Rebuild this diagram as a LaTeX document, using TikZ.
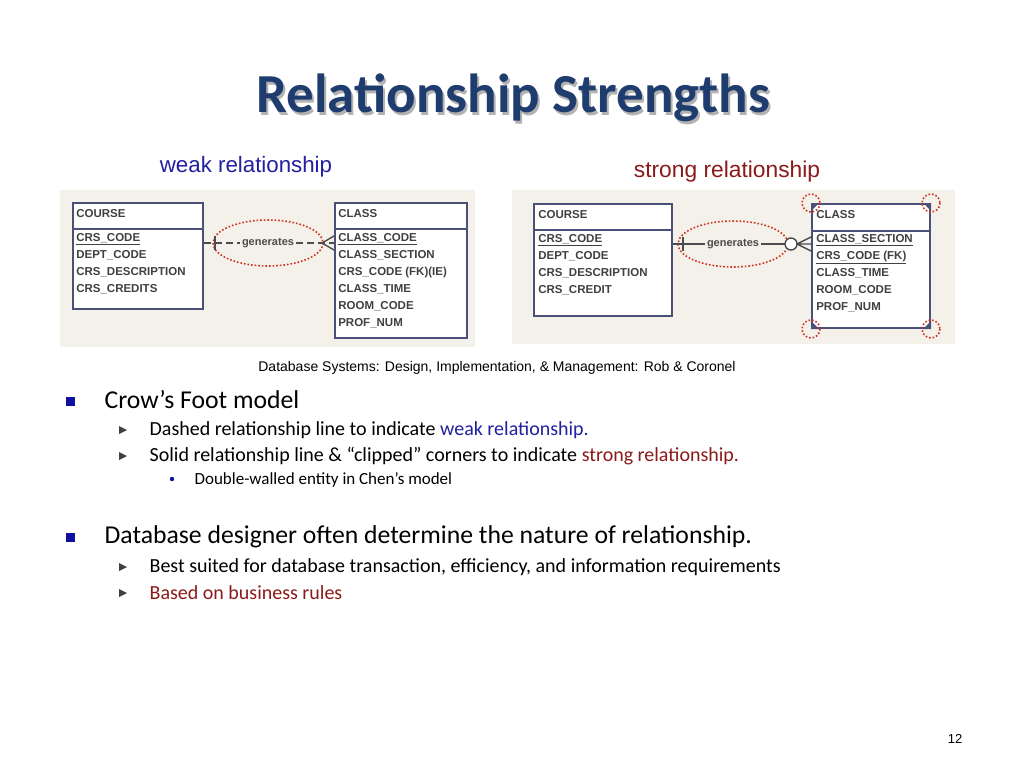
\documentclass[tikz,border=0pt]{standalone}
\usepackage{fontspec}
\setmainfont{Carlito}
\newfontfamily\arialfont{Liberation Sans}
\usepackage{tikz}
\usetikzlibrary{calc,positioning}
\definecolor{boxline}{HTML}{4A5078}
\definecolor{panelbg}{HTML}{F4F1EA}
\definecolor{dotred}{HTML}{D03020}
\definecolor{titleblue}{HTML}{1F3C6E}
\definecolor{weakblue}{HTML}{2020A0}
\definecolor{maroon}{HTML}{8B1A1A}
\definecolor{bulletblue}{HTML}{1010A0}
\begin{document}
\begin{tikzpicture}[x=1pt, y=-1pt, semithick]

    \tikzset{panel/.style = {fill=panelbg, draw=none},
             entity/.style = {rectangle, draw=boxline, line width=2pt, fill=white, anchor=north west, inner sep=0pt},
             fields/.style = {anchor=north west, align=left, inner sep=0pt, text=black!75, font=\arialfont\bfseries\fontsize{11.5}{17}\selectfont},
             relline/.style = {draw=black!70, line width=1.4pt},
             dotring/.style = {draw=dotred, line width=1.6pt, dotted},
             sub/.style = {anchor=west, font=\fontsize{20}{23}\selectfont},
             subsub/.style = {anchor=west, font=\fontsize{17}{20}\selectfont}}

    \useasboundingbox (0,0) rectangle (1024,768);
    \fill[white] (0,0) rectangle (1024,768);

    % title
    \node[text=black!30, font=\bfseries\fontsize{55}{60}\selectfont] at (515,101) {Relationship Strengths};
    \node (title) [text=titleblue, font=\bfseries\fontsize{55}{60}\selectfont] at (513,98) {Relationship Strengths};

    \node (weaklab)   [text=weakblue, font=\arialfont\fontsize{22.3}{26}\selectfont] at (246,167) {weak relationship};
    \node (stronglab) [text=maroon, font=\arialfont\fontsize{22.8}{26}\selectfont] at (727,172) {strong relationship};

    % weak panel
    \fill[panel] (60,190) rectangle (475,347);
    \node (wcourse) [entity, minimum width=130pt, minimum height=106pt] at (72,202) {};
    \draw[boxline, line width=2pt] (72,229) -- (202,229);
    \node (wcoursehd) [fields] at (76,209) {COURSE};
    \node (wcoursefl) [fields] at (76,233) {\underline{CRS\_CODE}\\DEPT\_CODE\\CRS\_DESCRIPTION\\CRS\_CREDITS};

    \node (wclass) [entity, minimum width=132pt, minimum height=135pt] at (334,202) {};
    \draw[boxline, line width=2pt] (334,229) -- (466,229);
    \node (wclasshd) [fields] at (338,209) {CLASS};
    \node (wclassfl) [fields] at (338,233) {\underline{CLASS\_CODE}\\CLASS\_SECTION\\CRS\_CODE (FK)(IE)\\CLASS\_TIME\\ROOM\_CODE\\PROF\_NUM};

    \node (wgen) [font=\arialfont\bfseries\fontsize{11}{13}\selectfont, text=black!70, inner sep=2pt, fill=panelbg] at (268,243) {generates};
    \coordinate (wl) at (wcourse.north east |- wgen);
    \coordinate (wr) at (wclass.north west |- wgen);
    \draw[dotring] (wgen) ellipse (55 and 23);
    \draw[relline, dash pattern=on 7pt off 4pt] (wl) -- (wgen.west);
    \draw[relline, dash pattern=on 7pt off 4pt] (wgen.east) -- (wr);
    \draw[relline] ($(wl)+(11,-7)$) -- ($(wl)+(11,7)$);
    \draw[relline] ($(wr)+(-12,0)$) -- ($(wr)+(0,-7)$)
                   ($(wr)+(-12,0)$) -- ($(wr)+(0,7)$);

    % strong panel
    \fill[panel] (512,190) rectangle (955,344);
    \node (scourse) [entity, minimum width=138pt, minimum height=112pt] at (533,203) {};
    \draw[boxline, line width=2pt] (533,230) -- (671,230);
    \node (scoursehd) [fields] at (538,210) {COURSE};
    \node (scoursefl) [fields] at (538,234) {\underline{CRS\_CODE}\\DEPT\_CODE\\CRS\_DESCRIPTION\\CRS\_CREDIT};

    \node (sclass) [entity, minimum width=118pt, minimum height=124pt] at (811,203) {};
    \draw[boxline, line width=2pt] (811,231) -- (929,231);
    \node (sclasshd) [fields] at (816,210) {CLASS};
    \node (sclassfl) [fields] at (816,234) {\underline{CLASS\_SECTION}\\\underline{CRS\_CODE (FK)}\\CLASS\_TIME\\ROOM\_CODE\\PROF\_NUM};

    \node (sgen) [font=\arialfont\bfseries\fontsize{11}{13}\selectfont, text=black!70, inner sep=2pt, fill=panelbg] at (733,244) {generates};
    \coordinate (sl) at (scourse.north east |- sgen);
    \coordinate (sr) at (sclass.north west |- sgen);
    \draw[dotring] (sgen) ellipse (55 and 23);
    \draw[relline] (sl) -- (sgen.west);
    \draw[relline] (sgen.east) -- ($(sr)+(-26,0)$);
    \draw[relline] ($(sl)+(10,-7)$) -- ($(sl)+(10,7)$);
    \draw[relline, fill=white] ($(sr)+(-20,0)$) circle (6);
    \draw[relline] ($(sr)+(-14,0)$) -- ($(sr)+(0,-7)$)
                   ($(sr)+(-14,0)$) -- (sr)
                   ($(sr)+(-14,0)$) -- ($(sr)+(0,7)$);

    % clipped corners
    \fill[boxline] (sclass.north west) -- ++(8,0) -- ++(-8,8) -- cycle;
    \fill[boxline] (sclass.north east) -- ++(-8,0) -- ++(8,8) -- cycle;
    \fill[boxline] (sclass.south west) -- ++(8,0) -- ++(-8,-8) -- cycle;
    \fill[boxline] (sclass.south east) -- ++(-8,0) -- ++(8,-8) -- cycle;
    \foreach \c in {north west, north east, south west, south east}
        \draw[dotring] ($(sclass.\c)$) circle (9);

    \node (source) [font=\arialfont\fontsize{14}{16}\selectfont] at (497,368) {Database Systems: Design, Implementation, \& Management: Rob \& Coronel};

    % bullets
    \fill[bulletblue] (66,397) rectangle (75,406);
    \node (b1) [anchor=west, font=\fontsize{25.7}{30}\selectfont] at (101,400) {Crow’s Foot model};
    \node (b1a) [sub] at (146,430) {Dashed relationship line to indicate \textcolor{weakblue}{weak relationship.}};
    \node (b1b) [sub] at (146,456) {Solid relationship line \& “clipped” corners to indicate \textcolor{maroon}{strong relationship.}};
    \node (b1c) [subsub] at (191,480) {Double-walled entity in Chen’s model};
    \fill[bulletblue] (66,533) rectangle (75,542);
    \node (b2) [anchor=west, font=\fontsize{25.7}{30}\selectfont] at (101,537) {Database designer often determine the nature of relationship.};
    \node (b2a) [sub] at (146,567) {Best suited for database transaction, efficiency, and information requirements};
    \node (b2b) [sub, text=maroon] at (146,593) {Based on business rules};
    \foreach \y in {430,456,567,593}
        \fill[black!75] (119,\y-4) -- (127,\y) -- (119,\y+4) -- cycle;
    \fill[bulletblue] (172,479) circle (2.2);

    \node (pagenum) [font=\arialfont\fontsize{13}{15}\selectfont] at (955,739) {12};
\end{tikzpicture}
\end{document}
